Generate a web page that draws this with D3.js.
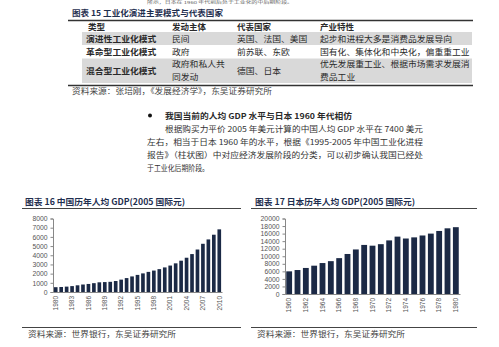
<!DOCTYPE html>
<html>
<head>
<meta charset="utf-8">
<script src="https://cdn.jsdelivr.net/npm/d3@7"></script>
<style>
  body { margin: 0; background: #fff; }
  svg { display: block; }
</style>
</head>
<body>
<div id="page"></div>
<script>
// table 15
const tableHeader = ["类型", "发动主体", "代表国家", "产业特性"];
const tableRows = [
  [["演进性工业化模式"], ["民间"], ["英国、法国、美国"], ["起步和进程大多是消费品发展导向"]],
  [["革命型工业化模式"], ["政府"], ["前苏联、东欧"], ["国有化、集体化和中央化，偏重重工业"]],
  [["混合型工业化模式"], ["政府和私人共", "同发动"], ["德国、日本"], ["优先发展重工业、根据市场需求发展消", "费品工业"]],
];

const paragraph = [
  "根据购买力平价 2005 年美元计算的中国人均 GDP 水平在 7400 美元",
  "左右，相当于日本 1960 年的水平，根据《1995-2005 年中国工业化进程",
  "报告》（柱状图）中对应经济发展阶段的分类，可以初步确认我国已经处",
  "于工业化后期阶段。",
];

// chart 16: China GDP per capita (2005 international $)
const chinaYears = d3.range(1980, 2011);
const chinaValues = [524, 545, 586, 641, 729, 815, 876, 962, 1055, 1080,
  1108, 1195, 1347, 1515, 1695, 1861, 2026, 2189, 2333, 2490,
  2675, 2878, 3120, 3409, 3730, 4128, 4625, 5248, 5722, 6235, 6819];
const chinaTicks = d3.range(0, 8001, 1000);
const chinaLabels = d3.range(1980, 2011, 3);

// chart 17: Japan GDP per capita (2005 international $)
const japanYears = d3.range(1960, 1981);
const japanValues = [6000, 6350, 6900, 7500, 8200, 8700, 9500, 10600, 11800, 13000,
  12800, 13200, 14200, 15200, 14700, 15000, 15500, 16000, 16700, 17400, 17700];
const japanTicks = d3.range(0, 20001, 2000);
const japanLabels = d3.range(1960, 1981, 2);

const W = 499, H = 347;
const cjk = "'Noto Sans CJK SC', sans-serif";
const latin = "'Liberation Sans', Arial, sans-serif";
const ink = "#2a2a2a";
const titleInk = "#1f2f4f";
const barColor = "#1b2945";

const svg = d3.select("#page").append("svg")
  .attr("width", W)
  .attr("height", H);

function txt(x, y, s, opts) {
  opts = opts || {};
  let t = svg.append("text")
    .attr("x", x)
    .attr("y", y)
    .attr("font-family", opts.family || cjk)
    .attr("font-size", opts.size || 8)
    .attr("font-weight", opts.weight || 400)
    .attr("fill", opts.fill || ink)
    .text(s);
  if (opts.width) {
    t.attr("textLength", opts.width).attr("lengthAdjust", "spacingAndGlyphs");
  }
  return t;
}

function hline(x1, x2, y, w, color) {
  svg.append("line")
    .attr("x1", x1).attr("x2", x2)
    .attr("y1", y).attr("y2", y)
    .attr("stroke", color || "#333")
    .attr("stroke-width", w || 1);
}

// tail of the line above (mostly off the page in the original)
txt(147, 4, "所示，日本在 1960 年代前后处于工业化的中后期阶段。", { size: 4, fill: "#666", width: 146 });

// ---- table 15 ----
txt(72, 16, "图表 15 工业化演进主要模式与代表国家", { size: 8, weight: 700, fill: titleInk, width: 151 });
hline(68, 473, 20.5, 1.5, "#333");

const colX = [86, 172, 237, 320];
const rowBands = [[32, 45], [45, 58.5], [58.5, 83]];
rowBands.forEach((b, i) => {
  if (i % 2 === 0) {
    svg.append("rect")
      .attr("x", 82).attr("y", b[0])
      .attr("width", 390).attr("height", b[1] - b[0])
      .attr("fill", "#d9d9d9");
  }
});

tableHeader.forEach((h, i) => {
  txt(colX[i] + (i === 0 ? 2 : 0), 30, h, { size: 8.5, weight: 700 });
});

tableRows.forEach((row, r) => {
  let [y0, y1] = rowBands[r];
  let mid = (y0 + y1) / 2;
  row.forEach((cell, c) => {
    let n = cell.length;
    cell.forEach((line, k) => {
      let y = mid + 3 + (k - (n - 1) / 2) * 13;
      txt(colX[c], y, line, {
        size: 8.5,
        weight: c === 0 ? 700 : 400,
        width: line.length * 8.8,
      });
    });
  });
});

hline(68, 473, 85.5, 1.5, "#333");
txt(72, 94, "资料来源：张培刚，《发展经济学》，东吴证券研究所", { size: 7.5, fill: "#444", width: 200 });

// ---- bullet paragraph ----
svg.append("circle").attr("cx", 150).attr("cy", 115.5).attr("r", 2).attr("fill", "#111");
txt(165, 118.5, "我国当前的人均 GDP 水平与日本 1960 年代相仿", { size: 8, weight: 700, width: 187 });
const paraX = [165, 147, 147, 147];
const paraW = [258, 276, 276, 62];
paragraph.forEach((line, i) => {
  txt(paraX[i], 132 + i * 13, line, { size: 8, fill: "#333", width: paraW[i] });
});

// ---- bar charts ----
function barChart(cfg) {
  txt(cfg.titleX, 205, cfg.title, { size: 8.5, weight: 700, fill: titleInk, width: cfg.titleW });
  hline(cfg.lineX[0], cfg.lineX[1], 208.5, 1, "#444");

  let x = d3.scaleBand()
    .domain(cfg.years)
    .range(cfg.xRange)
    .paddingInner(cfg.pad)
    .paddingOuter(cfg.pad / 2);
  let y = d3.scaleLinear()
    .domain([0, cfg.ticks[cfg.ticks.length - 1]])
    .range(cfg.yRange);

  let g = svg.append("g");

  g.selectAll("rect.bar")
    .data(cfg.values)
    .enter()
    .append("rect")
    .attr("class", "bar")
    .attr("x", (d, i) => x(cfg.years[i]))
    .attr("y", (d) => y(d))
    .attr("width", x.bandwidth())
    .attr("height", (d) => y(0) - y(d))
    .attr("fill", barColor);

  let yAxis = g.append("g")
    .attr("transform", `translate(${cfg.xRange[0]},0)`)
    .call(d3.axisLeft(y).tickValues(cfg.ticks).tickSize(2.5).tickPadding(3).tickFormat(d3.format("d")));
  yAxis.select(".domain").attr("stroke", "#888");
  yAxis.selectAll(".tick line").attr("stroke", "#888");
  yAxis.selectAll("text")
    .attr("font-family", latin)
    .attr("font-size", 6.8)
    .attr("fill", "#555");

  let xAxis = g.append("g")
    .attr("transform", `translate(0,${cfg.yRange[0]})`)
    .call(d3.axisBottom(x).tickValues(cfg.labels).tickSize(0).tickSizeOuter(0));
  xAxis.select(".domain").attr("stroke", "#888");
  xAxis.selectAll("text")
    .attr("font-family", latin)
    .attr("font-size", 6.5)
    .attr("fill", "#555")
    .attr("text-anchor", "end")
    .attr("dy", "0.35em")
    .attr("transform", "translate(0,4) rotate(-90)")
    .attr("x", 0)
    .attr("y", 0);

  hline(cfg.lineX[0], cfg.lineX[1], 327.5, 1, "#444");
  txt(cfg.srcX, 337, "资料来源：世界银行，东吴证券研究所", { size: 7.5, fill: "#444", width: 148 });
}

barChart({
  title: "图表 16 中国历年人均 GDP(2005 国际元)",
  titleX: 25, titleW: 160,
  lineX: [22, 241],
  years: chinaYears, values: chinaValues,
  ticks: chinaTicks, labels: chinaLabels,
  xRange: [53, 222], yRange: [292, 218.5],
  pad: 0.33,
  srcX: 28,
});

barChart({
  title: "图表 17  日本历年人均 GDP(2005 国际元)",
  titleX: 255, titleW: 160,
  lineX: [251, 477],
  years: japanYears, values: japanValues,
  ticks: japanTicks, labels: japanLabels,
  xRange: [285, 460], yRange: [294, 218.5],
  pad: 0.3,
  srcX: 257,
});
</script>
</body>
</html>
